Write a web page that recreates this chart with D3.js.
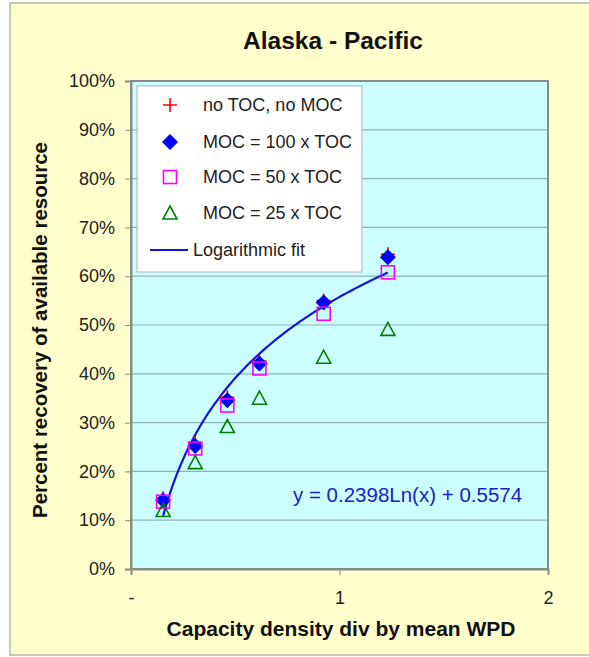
<!DOCTYPE html>
<html><head><meta charset="utf-8">
<script src="https://cdn.jsdelivr.net/npm/d3@7"></script>
<style>body{margin:0;background:#fff}svg{display:block}text{font-family:Arial,"Liberation Sans",sans-serif}</style>
</head><body>
<script>
const xVals = [0.154, 0.308, 0.462, 0.616, 0.924, 1.232];
const noTocNoMoc = [0.145, 0.258, 0.352, 0.426, 0.550, 0.645];
const moc100 = [0.141, 0.252, 0.346, 0.421, 0.546, 0.639];
const moc50 = [0.138, 0.247, 0.335, 0.411, 0.523, 0.608];
const moc25 = [0.120, 0.218, 0.292, 0.350, 0.434, 0.491];
const fitCoef = [0.2398, 0.5574];
const yTicks = [0,0.1,0.2,0.3,0.4,0.5,0.6,0.7,0.8,0.9,1.0];
const xTicks = [0,1,2];
const xTickLabels = ["-","1","2"];
const legendLabels = ["no TOC, no MOC","MOC = 100 x TOC","MOC = 50 x TOC","MOC = 25 x TOC","Logarithmic fit"];

const W=589,H=657;
const svg=d3.select("body").append("svg").attr("width",W).attr("height",H);
svg.append("rect").attr("x",0).attr("y",0).attr("width",W).attr("height",H).attr("fill","#fff");
svg.append("rect").attr("x",10).attr("y",3).attr("width",W).attr("height",652).attr("fill","#ffffcc").attr("stroke","#c8c8b0").attr("stroke-width",2);

const L=131,R=548,T=81,B=569;
const x=d3.scaleLinear().domain([0,2]).range([L,R]);
const y=d3.scaleLinear().domain([0,1]).range([B,T]);

svg.append("rect").attr("x",L).attr("y",T).attr("width",R-L).attr("height",B-T).attr("fill","#ccffff");
// gridlines
svg.append("g").selectAll("line").data(yTicks.slice(1,-1)).join("line")
  .attr("x1",L).attr("x2",R).attr("y1",d=>y(d)).attr("y2",d=>y(d))
  .attr("stroke","#8fb4b4").attr("stroke-width",1.2);
svg.append("rect").attr("x",L).attr("y",T).attr("width",R-L).attr("height",B-T).attr("fill","none").attr("stroke","#8a8a8a").attr("stroke-width",2);

// y axis
const ya=svg.append("g").attr("transform",`translate(${L},0)`).call(d3.axisLeft(y).tickValues(yTicks).tickFormat(d3.format(".0%")).tickSize(6).tickPadding(10));
ya.select(".domain").attr("stroke","#8a8a8a").attr("stroke-width",2);
ya.selectAll(".tick line").attr("stroke","#8a8a8a");
ya.selectAll("text").attr("font-size",18).attr("fill","#222").style("font-family","Arial,'Liberation Sans',sans-serif");
// x axis
const xa=svg.append("g").attr("transform",`translate(0,${B})`).call(d3.axisBottom(x).tickValues(xTicks).tickFormat((d,i)=>xTickLabels[i]).tickSize(6).tickPadding(16));
xa.select(".domain").attr("stroke","#8a8a8a").attr("stroke-width",2);
xa.selectAll(".tick line").attr("stroke","#8a8a8a");
xa.selectAll("text").attr("font-size",18).attr("fill","#222").style("font-family","Arial,'Liberation Sans',sans-serif");

// titles
svg.append("text").attr("x",333).attr("y",49).attr("text-anchor","middle").attr("font-size",24.5).attr("font-weight","bold").attr("fill","#111").text("Alaska - Pacific");
svg.append("text").attr("x",341).attr("y",636).attr("text-anchor","middle").attr("font-size",21).attr("font-weight","bold").attr("fill","#111").text("Capacity density div by mean WPD");
svg.append("text").attr("transform",`translate(47,${(T+B)/2+5}) rotate(-90)`).attr("text-anchor","middle").attr("font-size",20.5).attr("font-weight","bold").attr("fill","#111").text("Percent recovery of available resource");

// fit line
const fitX=d3.range(0,101).map(i=>xVals[0]+(xVals[xVals.length-1]-xVals[0])*i/100);
svg.append("path").datum(fitX).attr("fill","none").attr("stroke","#1414d8").attr("stroke-width",2.2)
  .attr("d",d3.line().x(d=>x(d)).y(d=>y(fitCoef[0]*Math.log(d)+fitCoef[1])));

// markers
const plusPath="M-7,0H7M0,-7V7";
function drawPlus(g,cx,cy){g.append("path").attr("d",plusPath).attr("transform",`translate(${cx},${cy})`).attr("stroke","#ff0000").attr("stroke-width",1.6).attr("fill","none");}
function drawDiamond(g,cx,cy){g.append("path").attr("d","M0,-7.5L7.5,0L0,7.5L-7.5,0Z").attr("transform",`translate(${cx},${cy})`).attr("fill","#0000ff").attr("stroke","#0000cc").attr("stroke-width",1);}
function drawSquare(g,cx,cy){g.append("rect").attr("x",cx-6.5).attr("y",cy-6.5).attr("width",13).attr("height",13).attr("fill","none").attr("stroke","#ff00ff").attr("stroke-width",1.6);}
function drawTri(g,cx,cy){g.append("path").attr("d","M0,-7L7,6L-7,6Z").attr("transform",`translate(${cx},${cy})`).attr("fill","none").attr("stroke","#008000").attr("stroke-width",1.6);}

const mg=svg.append("g");
xVals.forEach((xv,i)=>drawPlus(mg,x(xv),y(noTocNoMoc[i])));
xVals.forEach((xv,i)=>drawDiamond(mg,x(xv),y(moc100[i])));
xVals.forEach((xv,i)=>drawSquare(mg,x(xv),y(moc50[i])));
xVals.forEach((xv,i)=>drawTri(mg,x(xv),y(moc25[i])));

// legend
const lg=svg.append("g");
lg.append("rect").attr("x",137).attr("y",86).attr("width",225).attr("height",186).attr("fill","#ffffff").attr("stroke","#b0b0b0").attr("stroke-width",1);
const ly=[105,142,177,213,250];
drawPlus(lg,170,ly[0]);drawDiamond(lg,170,ly[1]);drawSquare(lg,170,ly[2]);drawTri(lg,170,ly[3]);
lg.append("line").attr("x1",150).attr("x2",188).attr("y1",ly[4]).attr("y2",ly[4]).attr("stroke","#1414d8").attr("stroke-width",2);
legendLabels.forEach((t,i)=>{
  lg.append("text").attr("x",i<4?203:193).attr("y",ly[i]).attr("dy","0.36em").attr("font-size",18).attr("fill","#222").text(t);
});

// equation
svg.append("text").attr("x",293).attr("y",495).attr("dy","0.36em").attr("font-size",20.5).attr("fill","#2020c8").text(`y = ${fitCoef[0]}Ln(x) + ${fitCoef[1]}`);
</script>
</body></html>
